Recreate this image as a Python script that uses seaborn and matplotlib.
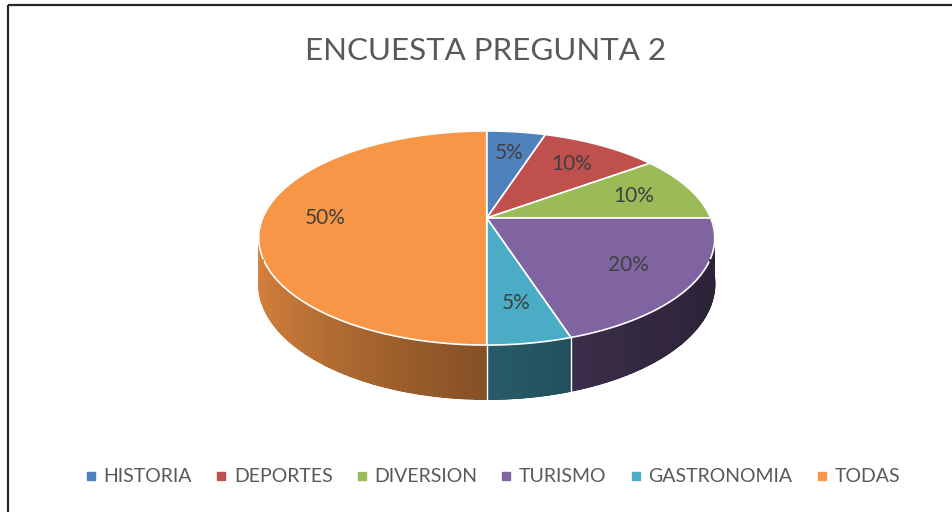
import numpy as np
import matplotlib
matplotlib.use("Agg")
import matplotlib.pyplot as plt
from matplotlib.patches import Polygon
from matplotlib.lines import Line2D
import seaborn as sns

categories = ["HISTORIA", "DEPORTES", "DIVERSION", "TURISMO", "GASTRONOMIA", "TODAS"]
shares = [5, 10, 10, 20, 5, 50]
slice_colors = ["#4F81BD", "#C0504D", "#9BBB59", "#8064A2", "#4BACC6", "#F79646"]
title = "ENCUESTA PREGUNTA 2"

sns.set_theme(style="white")
plt.rcParams["font.family"] = ["Lato", "DejaVu Sans"]
palette = sns.color_palette(slice_colors)

W, H = 953, 512
fig = plt.figure(figsize=(W / 100, H / 100), dpi=100)
ax = fig.add_axes([0, 0, 1, 1])
ax.set_xlim(0, W)
ax.set_ylim(H, 0)
ax.axis("off")

# pie geometry in pixels, with a little perspective like Excel's 3-D pie
cx, cy = 486.7, 218.0
rx, ry = 224.0, 103.3
persp = 0.187
depth = 44.0


def project(u, v, z=0.0):
    w = 1 - persp * v
    return cx + rx * u / w, cy + (ry * v + depth * z) / w


def shade(phi):
    phi = np.mod(phi, 2 * np.pi)
    t = ((1 + np.cos(phi - np.pi)) / 2) ** 1.47
    return 0.35 + 0.52 * t


def arc(a0, a1, z):
    n = max(2, int(np.degrees(abs(a0 - a1)) * 2))
    ang = np.linspace(a0, a1, n + 1)
    return [project(np.cos(a), -np.sin(a), z) for a in ang]


# slice angles: start at 12 o'clock, clockwise
total = float(sum(shares))
spans = [s / total * 2 * np.pi for s in shares]
starts = np.pi / 2 - np.concatenate([[0], np.cumsum(spans)[:-1]])
ends = starts - np.array(spans)

# side walls, shaded strip by strip
step = np.radians(0.5)
quads = []
for a0, a1, col in zip(starts, ends, palette):
    ang = np.arange(a0, a1, -step)
    for p in ang:
        q = max(p - step * 1.6, a1)
        mid = p - step / 2
        v_mid = -np.sin(mid)
        if v_mid < -0.02:
            continue
        pts = [project(np.cos(p), -np.sin(p), 0), project(np.cos(q), -np.sin(q), 0),
               project(np.cos(q), -np.sin(q), 1), project(np.cos(p), -np.sin(p), 1)]
        c = tuple(np.clip(np.array(col) * shade(mid), 0, 1))
        quads.append((v_mid, pts, c))
quads.sort(key=lambda t: t[0])
for _, pts, c in quads:
    ax.add_patch(Polygon(pts, closed=True, facecolor=c, lw=0, antialiased=False))

# smooth the lower outline of the walls
for a0, a1, col in zip(starts, ends, palette):
    lo, hi = max(a1, -np.pi * 1.02), min(a0, 0.02)
    if lo >= hi:
        continue
    ang = np.linspace(hi, lo, 200)
    for a, b in zip(ang[:-1], ang[1:]):
        if -np.sin((a + b) / 2) < -0.02:
            continue
        c = tuple(np.clip(np.array(col) * shade((a + b) / 2), 0, 1))
        (x0, y0), (x1, y1) = project(np.cos(a), -np.sin(a), 1), project(np.cos(b), -np.sin(b), 1)
        ax.plot([x0, x1], [y0, y1], color=c, lw=1.0, solid_capstyle="round")

# white seams on the wall at slice boundaries
for a in starts:
    if -np.sin(a) > 0.05:
        x0, y0 = project(np.cos(a), -np.sin(a), 0)
        x1, y1 = project(np.cos(a), -np.sin(a), 1)
        ax.plot([x0, x1], [y0, y1], color="white", lw=1.0)

# top faces
for a0, a1, col in zip(starts, ends, palette):
    pts = [project(0, 0)] + arc(a0, a1, 0)
    ax.add_patch(Polygon(pts, closed=True, facecolor=col, edgecolor="white", lw=1.2,
                         joinstyle="round"))

# data labels
for a0, a1, s in zip(starts, ends, shares):
    mid = (a0 + a1) / 2
    x, y = project(0.72 * np.cos(mid), -0.72 * np.sin(mid))
    ax.text(x, y, f"{s / total:.0%}", ha="center", va="center", fontsize=15, color="#404040")

# frame (chart border, cut at right/bottom)
ax.plot([8.5, W], [4.5, 4.5], color="#262626", lw=1.6, solid_capstyle="butt")
ax.plot([8.5, 8.5], [4.5, H], color="#262626", lw=1.6, solid_capstyle="butt")

fig.text(486 / W, 1 - 51 / H, title, ha="center", va="center", fontsize=22.5, color="#595959")

handles = [Line2D([], [], marker="s", linestyle="", markersize=6, color=c) for c in palette]
fig.legend(handles, categories, loc="center", bbox_to_anchor=(492 / W, 1 - 477 / H), ncol=6,
           frameon=False, fontsize=14, handlelength=0.7, handletextpad=0.3, columnspacing=1.15,
           labelcolor="#595959")

fig.savefig("out.png", dpi=100)
